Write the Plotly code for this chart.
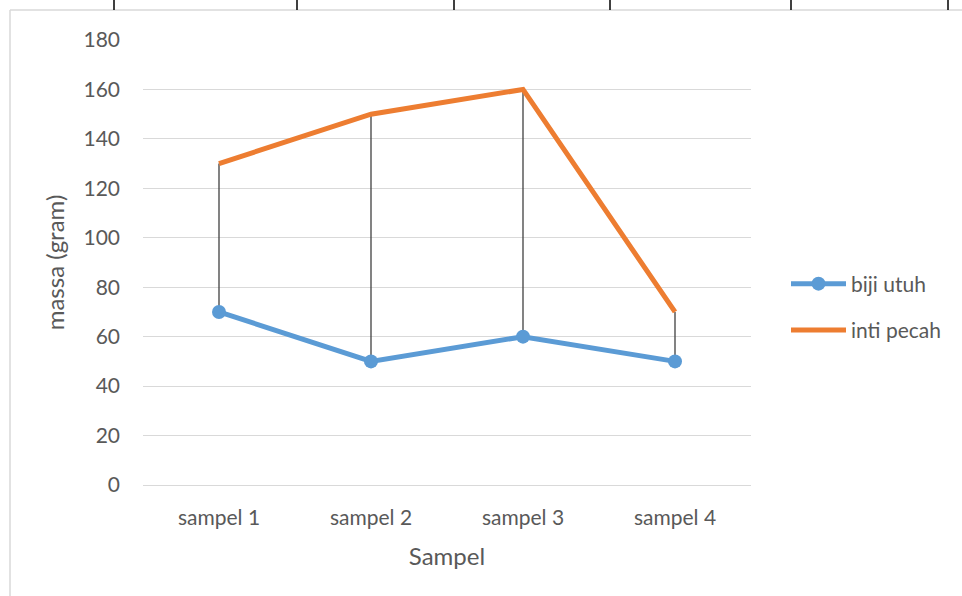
import plotly.graph_objects as go

categories = ["sampel 1", "sampel 2", "sampel 3", "sampel 4"]
biji_utuh = [70, 50, 60, 50]
inti_pecah = [130, 150, 160, 70]
y_ticks = [0, 20, 40, 60, 80, 100, 120, 140, 160, 180]

W, H = 962, 596
L, R, T, B = 143, 751, 40, 485

FONT = "Lato, 'Open Sans', sans-serif"
GRAY = "#595959"

# high-low connector lines built from the data
hl_x, hl_y = [], []
for c, lo, hi in zip(categories, biji_utuh, inti_pecah):
    hl_x += [c, c, None]
    hl_y += [lo, hi, None]

fig = go.Figure()
fig.add_trace(go.Scatter(x=hl_x, y=hl_y, mode="lines",
                         line=dict(color="#404040", width=1.3),
                         showlegend=False, hoverinfo="skip"))
fig.add_trace(go.Scatter(x=categories, y=biji_utuh, mode="lines+markers",
                         name="biji utuh", legendgroup="a",
                         line=dict(color="#5b9bd5", width=5),
                         marker=dict(size=14, color="#5b9bd5")))
fig.add_trace(go.Scatter(x=categories, y=inti_pecah, mode="lines",
                         name="inti pecah", legendgroup="b",
                         line=dict(color="#ed7d31", width=5)))

def px_x(p):
    return (p - L) / (R - L)

def px_y(p):
    return (B - p) / (B - T)

shapes = []
# outer chart border (left and top)
shapes.append(dict(type="line", xref="paper", yref="paper",
                   x0=px_x(10), x1=px_x(10), y0=px_y(10), y1=px_y(600),
                   line=dict(color="#d9d9d9", width=1.5)))
shapes.append(dict(type="line", xref="paper", yref="paper",
                   x0=px_x(10), x1=px_x(965), y0=px_y(10), y1=px_y(10),
                   line=dict(color="#d9d9d9", width=1.5)))
for xp in [114, 297, 454, 610, 791, 948]:
    shapes.append(dict(type="line", xref="paper", yref="paper",
                       x0=px_x(xp), x1=px_x(xp), y0=px_y(0), y1=px_y(10),
                       line=dict(color="#000000", width=1.5)))

fig.update_layout(
    width=W, height=H,
    margin=dict(l=L, r=W - R, t=T, b=H - B),
    paper_bgcolor="white", plot_bgcolor="white",
    font=dict(family=FONT, color=GRAY, size=20),
    shapes=shapes,
    showlegend=True,
    legend=dict(x=px_x(786), y=px_y(307), xanchor="left", yanchor="middle",
                font=dict(size=21, color=GRAY), traceorder="grouped",
                tracegroupgap=16, itemwidth=55, bgcolor="rgba(0,0,0,0)"),
    xaxis=dict(type="category", range=[-0.5, 3.5], showgrid=False,
               showline=False, ticks="", ticklabelstandoff=18,
               tickfont=dict(size=21, color=GRAY),
               title=dict(text="Sampel", font=dict(size=24, color=GRAY), standoff=20),
               zeroline=False),
    yaxis=dict(range=[0, 180], tickvals=y_ticks, showgrid=True,
               gridcolor="#d9d9d9", gridwidth=1.3, zeroline=True,
               zerolinecolor="#d9d9d9", zerolinewidth=1.3,
               showline=False, ticks="", ticklabelstandoff=22,
               tickfont=dict(size=21, color=GRAY),
               title=dict(text="massa (gram)", font=dict(size=24, color=GRAY), standoff=12)),
)

fig.write_html("out.html", config={"displayModeBar": False},
               post_script="document.body.style.margin='0';")
